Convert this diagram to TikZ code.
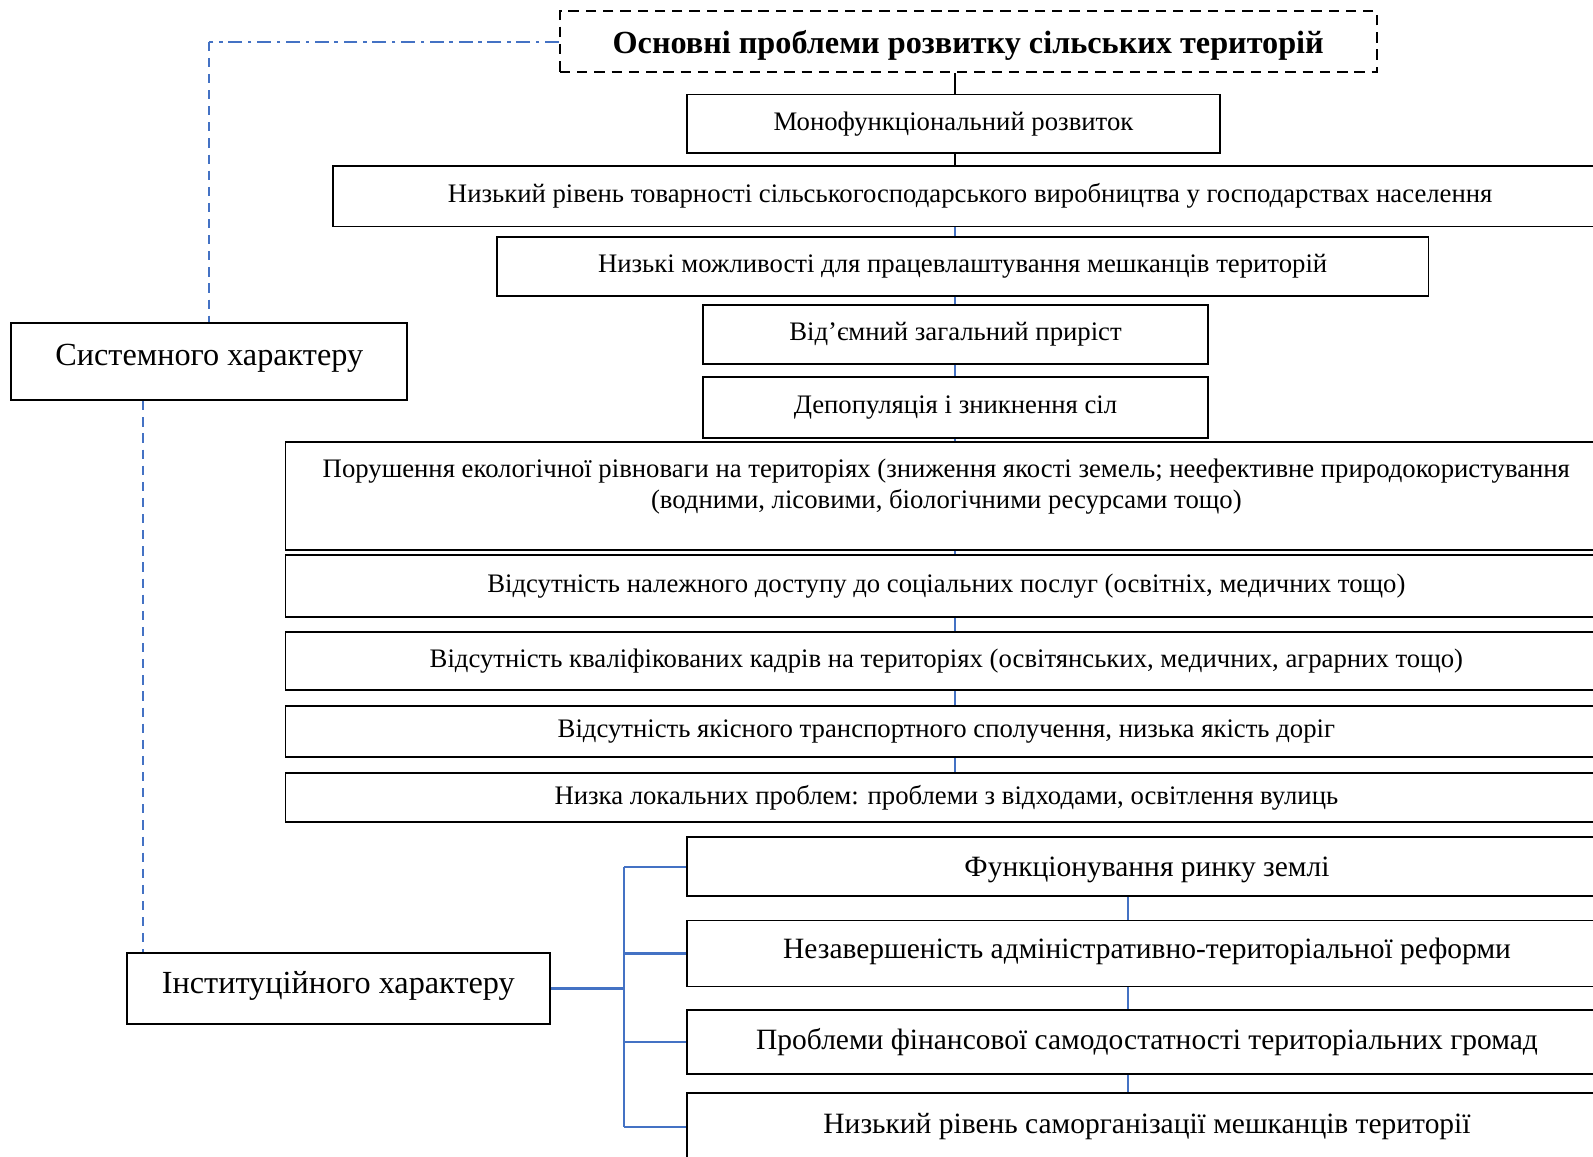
\documentclass[tikz,border=0pt]{standalone}
\usepackage{fontspec}
\setmainfont{Liberation Serif}
\usepackage{tikz}
\usetikzlibrary{calc}
\definecolor{linkblue}{HTML}{4472C4}
\newcommand\px{*0.0155cm}
\newcommand\nudge[2]{\raisebox{#1}[\height][\depth]{#2}}

\begin{document}
\begin{tikzpicture}[
  x=0.0155cm, y=-0.0155cm,
  prob/.style={
    rectangle, draw=black, line width=0.8pt, inner sep=0pt, align=center,
    font=\fontsize{11.6}{13.6}\selectfont,
  },
  inprob/.style={prob, font=\fontsize{12.8}{15}\selectfont},
  kind/.style={prob, font=\fontsize{14}{16}\selectfont},
  headbox/.style={prob, dash pattern=on 4.5pt off 3pt, font=\fontsize{14}{16}\selectfont\bfseries},
  link/.style={line width=0.9pt, color=linkblue},
  stem/.style={line width=0.8pt, color=black},
]
  \useasboundingbox (0,0) rectangle (1568,1138);

  % header and the left-hand groups
  \node[headbox, minimum width=804\px, minimum height=60\px] (title) at (953,41) {\nudge{-1.8pt}{Основні проблеми розвитку сільських територій}};
  \node[kind, minimum width=390\px, minimum height=76\px] (system) at (206,356) {\nudge{1.3pt}{Системного характеру}};
  \node[kind, minimum width=416\px, minimum height=70\px] (inst) at (333,973) {\nudge{1pt}{Інституційного характеру}};

  % problems of a systemic nature
  \node[prob, minimum width=525\px, minimum height=58\px] (mono) at (938.5,122) {Монофункціональний розвиток};
  \node[prob, minimum width=1254\px, minimum height=60\px] (tovar) at (955,193) {Низький рівень товарності сільськогосподарського виробництва у господарствах населення};
  \node[prob, minimum width=917\px, minimum height=58\px] (mozhl) at (947.5,262) {Низькі можливості для працевлаштування мешканців територій};
  \node[prob, minimum width=497\px, minimum height=58\px] (pryrist) at (940.5,329) {Від’ємний загальний приріст};
  \node[prob, minimum width=497\px, minimum height=60\px] (depop) at (940.5,401) {Депопуляція і зникнення сіл};
  \node[prob, minimum width=1301\px, minimum height=106\px] (eco) at (931.5,488) {Порушення екологічної рівноваги на територіях (зниження якості земель; неефективне природокористування\\(водними, лісовими, біологічними ресурсами тощо)\\[-3pt]\mbox{}};
  \node[prob, minimum width=1301\px, minimum height=61\px] (dostup) at (931.5,576.5) {Відсутність належного доступу до соціальних послуг (освітніх, медичних тощо)};
  \node[prob, minimum width=1301\px, minimum height=57\px] (kadry) at (931.5,650.5) {Відсутність кваліфікованих кадрів на територіях (освітянських, медичних, аграрних тощо)};
  \node[prob, minimum width=1301\px, minimum height=50\px] (transp) at (931.5,720) {Відсутність якісного транспортного сполучення, низька якість доріг};
  \node[prob, minimum width=1301\px, minimum height=48\px] (lokal) at (931.5,785) {Низка локальних проблем: проблеми з відходами, освітлення вулиць};

  % problems of an institutional nature
  \node[inprob, minimum width=906\px, minimum height=58\px] (rynok) at (1129,853) {\nudge{-1.6pt}{Функціонування ринку землі}};
  \node[inprob, minimum width=906\px, minimum height=65\px] (reforma) at (1129,938.5) {\nudge{0.8pt}{Незавершеність адміністративно-територіальної реформи}};
  \node[inprob, minimum width=906\px, minimum height=63\px] (finans) at (1129,1025.5) {Проблеми фінансової самодостатності територіальних громад};
  \node[inprob, minimum width=906\px, minimum height=66\px] (samorg) at (1129,1109) {Низький рівень саморганізації мешканців території};

  \coordinate (spine) at (940,0);
  \coordinate (rspine) at (1110,0);
  \coordinate (brk) at (614,0);
  \coordinate (vdash) at (141,0);

  % vertical chain
  \draw[stem] (title.south -| spine) -- (mono.north -| spine);
  \draw[stem] (mono.south -| spine) -- (tovar.north -| spine);
  \foreach \a/\b in {tovar/mozhl, mozhl/pryrist, pryrist/depop, depop/eco, eco/dostup, dostup/kadry, kadry/transp, transp/lokal}
    \draw[link] (\a.south -| spine) -- (\b.north -| spine);
  \foreach \a/\b in {rynok/reforma, reforma/finans, finans/samorg}
    \draw[link] (\a.south -| rspine) -- (\b.north -| rspine);

  % group links
  \draw[link, dash pattern=on 6pt off 2.5pt on 1.5pt off 2.5pt] (title.west) -- (title.west -| system.north);
  \draw[link, dash pattern=on 4pt off 3pt] (title.west -| system.north) -- (system.north);
  \draw[link, dash pattern=on 4pt off 3pt] (system.south -| vdash) -- (inst.north -| vdash);

  % bracket
  \draw[link] (inst.east) -- (inst.east -| brk);
  \draw[link] (rynok.west -| brk) -- (samorg.west -| brk);
  \foreach \n in {rynok, reforma, finans, samorg}
    \draw[link] (\n.west -| brk) -- (\n.west);
\end{tikzpicture}
\end{document}
